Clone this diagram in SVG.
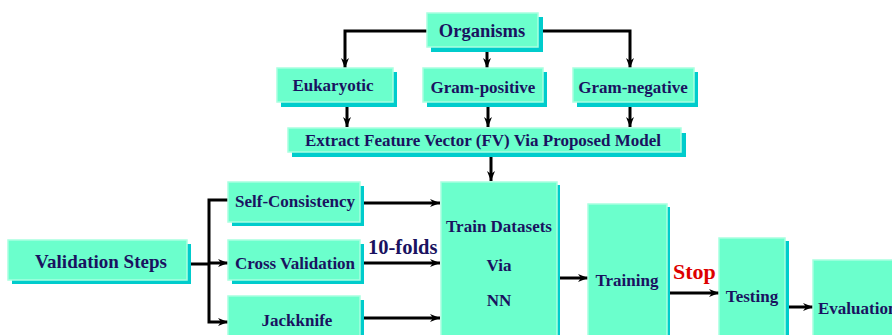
<svg xmlns="http://www.w3.org/2000/svg" width="892" height="335" viewBox="0 0 892 335">
<defs>
<marker id="ah" markerWidth="10" markerHeight="8" refX="10" refY="4" orient="auto" markerUnits="userSpaceOnUse">
<path d="M0,0 L10,4 L0,8 L3,4 Z" fill="#000"/>
</marker>
</defs>
<style>
.sh{fill:#00CCCC}
.bx{fill:#6BFFCC;stroke:#A8FFE0;stroke-width:1.5}
.t{font-family:"Liberation Serif","Times New Roman",serif;font-weight:bold;fill:#1A1260;font-size:17px;text-anchor:middle}
.c{fill:none;stroke:#000;stroke-width:3;marker-end:url(#ah)}
.l{fill:none;stroke:#000;stroke-width:3}
</style>
<rect width="892" height="335" fill="#fff"/>
<g id="connectors">
<polyline class="c" points="427,31 345,31 345,68"/>
<polyline class="c" points="538,31 630,31 630,68"/>
<line class="c" x1="487" y1="52" x2="487" y2="68"/>
<line class="c" x1="347" y1="106" x2="347" y2="127"/>
<line class="c" x1="488" y1="106" x2="488" y2="127"/>
<line class="c" x1="630" y1="106" x2="630" y2="127"/>
<line class="c" x1="491" y1="156" x2="491" y2="181"/>
<line class="l" x1="191" y1="264" x2="209" y2="264"/>
<polyline class="c" points="228,200 209,200 209,322 228,322"/>
<line class="c" x1="209" y1="263" x2="228" y2="263"/>
<line class="c" x1="363" y1="203" x2="440" y2="203"/>
<line class="c" x1="363" y1="263" x2="440" y2="263"/>
<line class="c" x1="363" y1="318" x2="440" y2="318"/>
<line class="c" x1="560" y1="278" x2="588" y2="278"/>
<line class="c" x1="670" y1="293" x2="719" y2="293"/>
<line class="c" x1="789" y1="307" x2="813" y2="307"/>
</g>
<g id="organisms"><rect class="sh" x="431" y="17" width="112" height="35"/><rect class="bx" x="427" y="13" width="111" height="34"/><text class="t" x="482" y="37" style="font-size:18.5px">Organisms</text></g>
<g id="eukaryotic"><rect class="sh" x="281" y="72" width="116" height="35"/><rect class="bx" x="277" y="68" width="116" height="34"/><text class="t" x="333" y="91">Eukaryotic</text></g>
<g id="gram-positive"><rect class="sh" x="427" y="72" width="120" height="35"/><rect class="bx" x="423" y="68" width="120" height="34"/><text class="t" x="483" y="93">Gram-positive</text></g>
<g id="gram-negative"><rect class="sh" x="577" y="72" width="121" height="35"/><rect class="bx" x="573" y="68" width="121" height="34"/><text class="t" x="633" y="93">Gram-negative</text></g>
<g id="extract"><rect class="sh" x="292" y="133" width="394" height="24"/><rect class="bx" x="288" y="128" width="393" height="24"/><text class="t" x="483" y="146">Extract Feature Vector (FV) Via Proposed Model</text></g>
<g id="validation"><rect class="sh" x="12" y="244" width="179" height="40"/><rect class="bx" x="8" y="240" width="179" height="40"/><text class="t" x="101" y="268" style="font-size:19px">Validation Steps</text></g>
<g id="self-consistency"><rect class="sh" x="232" y="186" width="132" height="40"/><rect class="bx" x="228" y="182" width="132" height="40"/><text class="t" x="295" y="207">Self-Consistency</text></g>
<g id="cross-validation"><rect class="sh" x="232" y="244" width="132" height="40"/><rect class="bx" x="228" y="240" width="132" height="40"/><text class="t" x="295" y="269">Cross Validation</text></g>
<g id="jackknife"><rect class="sh" x="232" y="300" width="132" height="40"/><rect class="bx" x="228" y="296" width="132" height="44"/><text class="t" x="297" y="326">Jackknife</text></g>
<text x="368" y="254" style="font-family:'Liberation Serif','Times New Roman',serif;font-weight:bold;font-size:20.5px;fill:#1A1260">10-folds</text>
<g id="train-datasets"><rect class="sh" x="444" y="185" width="116" height="155"/><rect class="bx" x="441" y="182" width="116" height="160"/><text class="t" x="499" y="232">Train Datasets</text><text class="t" x="499" y="271">Via</text><text class="t" x="499" y="306">NN</text></g>
<g id="training"><rect class="sh" x="591" y="207" width="79" height="135"/><rect class="bx" x="588" y="204" width="79" height="140"/><text class="t" x="627" y="286">Training</text></g>
<text x="673" y="279" style="font-family:'Liberation Serif','Times New Roman',serif;font-weight:bold;font-size:22px;fill:#DD0000">Stop</text>
<g id="testing"><rect class="sh" x="722" y="241" width="67" height="100"/><rect class="bx" x="719" y="238" width="66" height="104"/><text class="t" x="752" y="302">Testing</text></g>
<g id="evaluation"><rect class="sh" x="816" y="263" width="80" height="80"/><rect class="bx" x="813" y="260" width="85" height="84"/><text class="t" x="818" y="314" style="text-anchor:start">Evaluation</text></g>
</svg>
